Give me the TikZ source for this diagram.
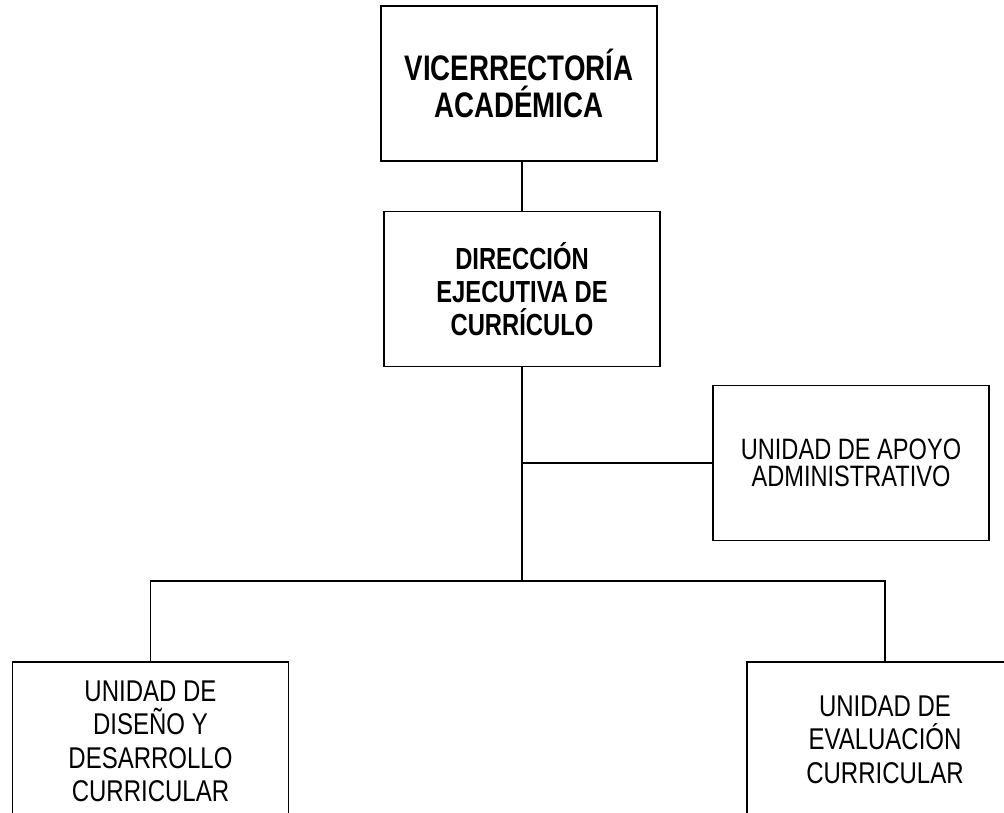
\documentclass[tikz,border=0pt]{standalone}
\usepackage{fontspec}
\newfontfamily\narrowfont[FakeStretch=0.8]{Liberation Sans}
\newfontfamily\narrowboldfont[FakeStretch=0.78]{Liberation Sans Bold}
\begin{document}
\begin{tikzpicture}[x=1pt,y=-1pt,
  box/.style={draw=black, line width=1.6pt, minimum width=276pt, minimum height=155pt,
    inner sep=0pt, align=center, text=black},
  bigbold/.style={font=\narrowboldfont\fontsize{35.5}{37}\selectfont},
  midbold/.style={font=\narrowboldfont\fontsize{30.5}{33}\selectfont},
  reg/.style={font=\narrowfont\fontsize{29.5}{27}\selectfont},
  reglow/.style={font=\narrowfont\fontsize{30}{33.5}\selectfont},
  conn/.style={draw=black, line width=1.4pt}]
\useasboundingbox (0,0) rectangle (1004,812);
\fill[white] (0,0) rectangle (1004,812);
\node[box, bigbold] (vr) at (519,83.5) {VICERRECTORÍA\\ACADÉMICA};
\node[box, midbold] (dec) at (522,289) {DIRECCIÓN\\EJECUTIVA DE\\CURRÍCULO};
\node[box, reg] (apoyo) at (851,463) {UNIDAD DE APOYO\\ADMINISTRATIVO};
\node[box, reglow, minimum height=159pt] (dis) at (150.5,741.5) {UNIDAD DE\\DISEÑO Y\\DESARROLLO\\CURRICULAR};
\node[box, reglow] (eva) at (885,739.5) {UNIDAD DE\\EVALUACIÓN\\CURRICULAR};
\coordinate (j) at (522,581);
\draw[conn] (dec.north) -- (dec.north |- vr.south);
\draw[conn] (dec.south) -- (j);
\draw[conn] (dec.south |- apoyo.west) -- (apoyo.west);
\draw[conn] (dis.north) -- (dis.north |- j) -- (eva.north |- j) -- (eva.north);
\end{tikzpicture}
\end{document}
